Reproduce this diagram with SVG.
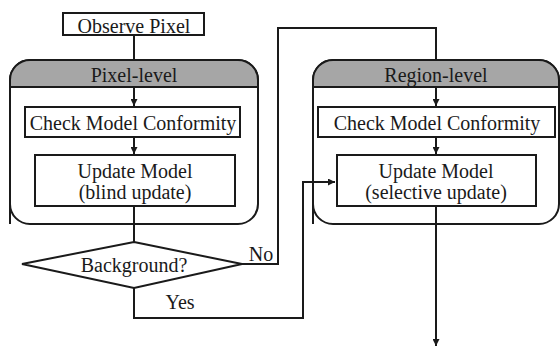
<svg xmlns="http://www.w3.org/2000/svg" width="560" height="347" viewBox="0 0 560 347">
<style>
text{font-family:"Liberation Serif","Times New Roman",serif;font-size:20px;fill:#1a1a1a;text-anchor:middle}
.box{fill:#fff;stroke:#1a1a1a;stroke-width:2}
.hdr{fill:#a6a6a6;stroke:#1a1a1a;stroke-width:2}
.ln{fill:none;stroke:#1a1a1a;stroke-width:2}
</style>
<defs>
<marker id="arr" viewBox="0 0 10 10" refX="10" refY="5" markerWidth="7" markerHeight="7" orient="auto" markerUnits="userSpaceOnUse">
<path d="M0,0 L10,5 L0,10 z" fill="#1a1a1a"/>
</marker>
</defs>
<rect width="560" height="347" fill="#fff"/>
<g id="pixel-level">
<path class="box" d="M10,224 V80 A20,20 0 0 1 30,60 H238 A20,20 0 0 1 258,80 V204 A20,20 0 0 1 238,224 H30 A20,20 0 0 1 10,204 Z"/>
<path class="hdr" d="M10,87 V80 A20,20 0 0 1 30,60 H238 A20,20 0 0 1 258,80 V87 Z"/>
<text x="134" y="82">Pixel-level</text>
</g>
<g id="region-level">
<path class="box" d="M313,224 V80 A20,20 0 0 1 333,60 H539 A20,20 0 0 1 559,80 V204 A20,20 0 0 1 539,224 H333 A20,20 0 0 1 313,204 Z"/>
<path class="hdr" d="M313,87 V80 A20,20 0 0 1 333,60 H539 A20,20 0 0 1 559,80 V87 Z"/>
<text x="436" y="82">Region-level</text>
</g>
<g id="observe">
<rect class="box" x="63" y="13" width="141" height="22"/>
<text x="134" y="33">Observe Pixel</text>
</g>
<g id="check1">
<rect class="box" x="25" y="107" width="215" height="30"/>
<text x="133" y="130">Check Model Conformity</text>
</g>
<g id="update1">
<rect class="box" x="35" y="155" width="200" height="51"/>
<text x="135" y="178">Update Model</text>
<text x="135" y="199">(blind update)</text>
</g>
<g id="check2">
<rect class="box" x="318" y="107" width="237" height="30"/>
<text x="437" y="130">Check Model Conformity</text>
</g>
<g id="update2">
<rect class="box" x="337" y="155" width="199" height="51"/>
<text x="436" y="178">Update Model</text>
<text x="436" y="199">(selective update)</text>
</g>
<g id="decision">
<polygon class="box" points="134,242 242,264 134,288 22,264"/>
<text x="134" y="272">Background?</text>
</g>
<g id="connectors">
<line class="ln" x1="134" y1="35" x2="134" y2="60"/>
<line class="ln" x1="134" y1="87" x2="134" y2="106" marker-end="url(#arr)"/>
<line class="ln" x1="134" y1="137" x2="134" y2="154" marker-end="url(#arr)"/>
<line class="ln" x1="134" y1="206" x2="134" y2="242"/>
<polyline class="ln" points="242,264 278,264 278,28 436,28 436,60"/>
<line class="ln" x1="436" y1="87" x2="436" y2="106" marker-end="url(#arr)"/>
<line class="ln" x1="436" y1="137" x2="436" y2="154" marker-end="url(#arr)"/>
<polyline class="ln" points="134,288 134,318 303,318 303,182 335,182" marker-end="url(#arr)"/>
<line class="ln" x1="436" y1="206" x2="436" y2="346" marker-end="url(#arr)"/>
<text x="261" y="261">No</text>
<text x="180" y="309">Yes</text>
</g>
</svg>
